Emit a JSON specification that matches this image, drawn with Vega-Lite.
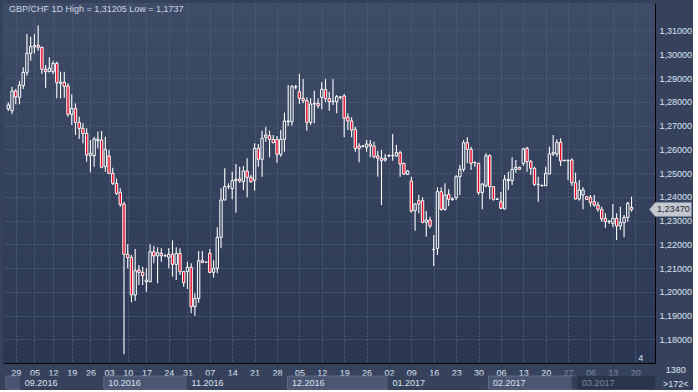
{
  "$schema": "https://vega.github.io/schema/vega-lite/v6.json",
  "background": "#36425c",
  "padding": {"left": 3, "top": 3, "right": 0, "bottom": 0},
  "spacing": 13,
  "bounds": "flush",
  "config": {
    "font": "Liberation Sans",
    "view": {"stroke": null}
  },
  "datasets": {
    "ohlc": [
      {"i":0,"o":1.27696,"h":1.27977,"l":1.27612,"c":1.27864},
      {"i":1,"o":1.27626,"h":1.28636,"l":1.27472,"c":1.28454},
      {"i":2,"o":1.28454,"h":1.28538,"l":1.27892,"c":1.28201},
      {"i":3,"o":1.28187,"h":1.28875,"l":1.27892,"c":1.28706},
      {"i":4,"o":1.28678,"h":1.29450,"l":1.28538,"c":1.29239},
      {"i":5,"o":1.29239,"h":1.30853,"l":1.29099,"c":1.30039},
      {"i":6,"o":1.30039,"h":1.30740,"l":1.29730,"c":1.30320},
      {"i":7,"o":1.30306,"h":1.30853,"l":1.30039,"c":1.30362},
      {"i":8,"o":1.30376,"h":1.31205,"l":1.30151,"c":1.30292},
      {"i":9,"o":1.30292,"h":1.30320,"l":1.29169,"c":1.29366},
      {"i":10,"o":1.29366,"h":1.29548,"l":1.28594,"c":1.29267},
      {"i":11,"o":1.29267,"h":1.29871,"l":1.29239,"c":1.29408},
      {"i":12,"o":1.29267,"h":1.29716,"l":1.29155,"c":1.29618},
      {"i":13,"o":1.29618,"h":1.29688,"l":1.28145,"c":1.28804},
      {"i":14,"o":1.28776,"h":1.29267,"l":1.28145,"c":1.28832},
      {"i":15,"o":1.28818,"h":1.29267,"l":1.28173,"c":1.28650},
      {"i":16,"o":1.28664,"h":1.28776,"l":1.27373,"c":1.27472},
      {"i":17,"o":1.27472,"h":1.28313,"l":1.27023,"c":1.27724},
      {"i":18,"o":1.27724,"h":1.27934,"l":1.26602,"c":1.27135},
      {"i":19,"o":1.27135,"h":1.27373,"l":1.26433,"c":1.26882},
      {"i":20,"o":1.26882,"h":1.27093,"l":1.26251,"c":1.26658},
      {"i":21,"o":1.26672,"h":1.26882,"l":1.25479,"c":1.25760},
      {"i":22,"o":1.25732,"h":1.26391,"l":1.25030,"c":1.25830},
      {"i":23,"o":1.25732,"h":1.26531,"l":1.25269,"c":1.26433},
      {"i":24,"o":1.26363,"h":1.26742,"l":1.26040,"c":1.26433},
      {"i":25,"o":1.26391,"h":1.26770,"l":1.25199,"c":1.25241},
      {"i":26,"o":1.25269,"h":1.26531,"l":1.25058,"c":1.25998},
      {"i":27,"o":1.25718,"h":1.25970,"l":1.24946,"c":1.24988},
      {"i":28,"o":1.24988,"h":1.25227,"l":1.24497,"c":1.24567},
      {"i":29,"o":1.24567,"h":1.24778,"l":1.24076,"c":1.24146},
      {"i":30,"o":1.24188,"h":1.24357,"l":1.23585,"c":1.23683},
      {"i":31,"o":1.23697,"h":1.23796,"l":1.17370,"c":1.21579},
      {"i":32,"o":1.21579,"h":1.22000,"l":1.20990,"c":1.21439},
      {"i":33,"o":1.21453,"h":1.21551,"l":1.19559,"c":1.19867},
      {"i":34,"o":1.19867,"h":1.21803,"l":1.19615,"c":1.20891},
      {"i":35,"o":1.20919,"h":1.21130,"l":1.20288,"c":1.20821},
      {"i":36,"o":1.20821,"h":1.21060,"l":1.20288,"c":1.20681},
      {"i":37,"o":1.20428,"h":1.20990,"l":1.20008,"c":1.20499},
      {"i":38,"o":1.20428,"h":1.22000,"l":1.20400,"c":1.21691},
      {"i":39,"o":1.21691,"h":1.21930,"l":1.21200,"c":1.21509},
      {"i":40,"o":1.21509,"h":1.21873,"l":1.20358,"c":1.21649},
      {"i":41,"o":1.21621,"h":1.21831,"l":1.21270,"c":1.21523},
      {"i":42,"o":1.21523,"h":1.21579,"l":1.21467,"c":1.21523},
      {"i":43,"o":1.21453,"h":1.21831,"l":1.20990,"c":1.21579},
      {"i":44,"o":1.21579,"h":1.22168,"l":1.20639,"c":1.21158},
      {"i":45,"o":1.21158,"h":1.21873,"l":1.20499,"c":1.21621},
      {"i":46,"o":1.21621,"h":1.21831,"l":1.20709,"c":1.20849},
      {"i":47,"o":1.20849,"h":1.20877,"l":1.20218,"c":1.20386},
      {"i":48,"o":1.20849,"h":1.21270,"l":1.20120,"c":1.21032},
      {"i":49,"o":1.21032,"h":1.21200,"l":1.19096,"c":1.19376},
      {"i":50,"o":1.19376,"h":1.19937,"l":1.18997,"c":1.19727},
      {"i":51,"o":1.19727,"h":1.21719,"l":1.19545,"c":1.21312},
      {"i":52,"o":1.21312,"h":1.21719,"l":1.21200,"c":1.21242},
      {"i":53,"o":1.21249,"h":1.21256,"l":1.21242,"c":1.21249},
      {"i":54,"o":1.21621,"h":1.21803,"l":1.20779,"c":1.20821},
      {"i":55,"o":1.20821,"h":1.21326,"l":1.20597,"c":1.20990},
      {"i":56,"o":1.20990,"h":1.22715,"l":1.20779,"c":1.22294},
      {"i":57,"o":1.22294,"h":1.24357,"l":1.21831,"c":1.23866},
      {"i":58,"o":1.23866,"h":1.25199,"l":1.23866,"c":1.24427},
      {"i":59,"o":1.24427,"h":1.24567,"l":1.24315,"c":1.24441},
      {"i":60,"o":1.24343,"h":1.25058,"l":1.23894,"c":1.24680},
      {"i":61,"o":1.24680,"h":1.25381,"l":1.23333,"c":1.24736},
      {"i":62,"o":1.24750,"h":1.25269,"l":1.24595,"c":1.24666},
      {"i":63,"o":1.24638,"h":1.25297,"l":1.24287,"c":1.25086},
      {"i":64,"o":1.25086,"h":1.25620,"l":1.23978,"c":1.24820},
      {"i":65,"o":1.24820,"h":1.24918,"l":1.24595,"c":1.24638},
      {"i":66,"o":1.24700,"h":1.26251,"l":1.24259,"c":1.26040},
      {"i":67,"o":1.26040,"h":1.26223,"l":1.25269,"c":1.25578},
      {"i":68,"o":1.25578,"h":1.26784,"l":1.24848,"c":1.26461},
      {"i":69,"o":1.26503,"h":1.26952,"l":1.26321,"c":1.26602},
      {"i":70,"o":1.26574,"h":1.26784,"l":1.25662,"c":1.26419},
      {"i":71,"o":1.26419,"h":1.26602,"l":1.26251,"c":1.26279},
      {"i":72,"o":1.26419,"h":1.26560,"l":1.25437,"c":1.25788},
      {"i":73,"o":1.25788,"h":1.26812,"l":1.25690,"c":1.26419},
      {"i":74,"o":1.26419,"h":1.27542,"l":1.25900,"c":1.27191},
      {"i":75,"o":1.27163,"h":1.28706,"l":1.26980,"c":1.27191},
      {"i":76,"o":1.27163,"h":1.28706,"l":1.26995,"c":1.28636},
      {"i":77,"o":1.28622,"h":1.28706,"l":1.28523,"c":1.28636},
      {"i":78,"o":1.28425,"h":1.29169,"l":1.27906,"c":1.28145},
      {"i":79,"o":1.28145,"h":1.28959,"l":1.27934,"c":1.28047},
      {"i":80,"o":1.28047,"h":1.28187,"l":1.26784,"c":1.27135},
      {"i":81,"o":1.27135,"h":1.28145,"l":1.27023,"c":1.27906},
      {"i":82,"o":1.27906,"h":1.28468,"l":1.27093,"c":1.27934},
      {"i":83,"o":1.27934,"h":1.28145,"l":1.27724,"c":1.27836},
      {"i":84,"o":1.28187,"h":1.28818,"l":1.27682,"c":1.28523},
      {"i":85,"o":1.28523,"h":1.28959,"l":1.27977,"c":1.28131},
      {"i":86,"o":1.28131,"h":1.28425,"l":1.27626,"c":1.28005},
      {"i":87,"o":1.28005,"h":1.28959,"l":1.27864,"c":1.28019},
      {"i":88,"o":1.28005,"h":1.28285,"l":1.27514,"c":1.28215},
      {"i":89,"o":1.28187,"h":1.28243,"l":1.28103,"c":1.28201},
      {"i":90,"o":1.28243,"h":1.28327,"l":1.26503,"c":1.27303},
      {"i":91,"o":1.27345,"h":1.27514,"l":1.26812,"c":1.27191},
      {"i":92,"o":1.27191,"h":1.27345,"l":1.26503,"c":1.26812},
      {"i":93,"o":1.26840,"h":1.26952,"l":1.25900,"c":1.26040},
      {"i":94,"o":1.26139,"h":1.26251,"l":1.25451,"c":1.26040},
      {"i":95,"o":1.26125,"h":1.26181,"l":1.26083,"c":1.26139},
      {"i":96,"o":1.26082,"h":1.26391,"l":1.25900,"c":1.26223},
      {"i":97,"o":1.26223,"h":1.26391,"l":1.25662,"c":1.26139},
      {"i":98,"o":1.26139,"h":1.26321,"l":1.25620,"c":1.25690},
      {"i":99,"o":1.25718,"h":1.25928,"l":1.24848,"c":1.25620},
      {"i":100,"o":1.25620,"h":1.25970,"l":1.23655,"c":1.25521},
      {"i":101,"o":1.25549,"h":1.25802,"l":1.25479,"c":1.25620},
      {"i":102,"o":1.25718,"h":1.25788,"l":1.25676,"c":1.25732},
      {"i":103,"o":1.25732,"h":1.26644,"l":1.25521,"c":1.25746},
      {"i":104,"o":1.25718,"h":1.26181,"l":1.25690,"c":1.25858},
      {"i":105,"o":1.25858,"h":1.25942,"l":1.24848,"c":1.25381},
      {"i":106,"o":1.25409,"h":1.25437,"l":1.24918,"c":1.24960},
      {"i":107,"o":1.24946,"h":1.25128,"l":1.24918,"c":1.25086},
      {"i":108,"o":1.24666,"h":1.24848,"l":1.23333,"c":1.23403},
      {"i":109,"o":1.23417,"h":1.23725,"l":1.22575,"c":1.23697},
      {"i":110,"o":1.23838,"h":1.24076,"l":1.23305,"c":1.23697},
      {"i":111,"o":1.23838,"h":1.23978,"l":1.22884,"c":1.22926},
      {"i":112,"o":1.22926,"h":1.23403,"l":1.22323,"c":1.23024},
      {"i":113,"o":1.23024,"h":1.23164,"l":1.22673,"c":1.22772},
      {"i":114,"o":1.21776,"h":1.22393,"l":1.21088,"c":1.21790},
      {"i":115,"o":1.21832,"h":1.24399,"l":1.21551,"c":1.24217},
      {"i":116,"o":1.24217,"h":1.24399,"l":1.23417,"c":1.23473},
      {"i":117,"o":1.23473,"h":1.24567,"l":1.23417,"c":1.24076},
      {"i":118,"o":1.24104,"h":1.24315,"l":1.23613,"c":1.23894},
      {"i":119,"o":1.23894,"h":1.23978,"l":1.23838,"c":1.23908},
      {"i":120,"o":1.23964,"h":1.24918,"l":1.23866,"c":1.24848},
      {"i":121,"o":1.24848,"h":1.25339,"l":1.24076,"c":1.25157},
      {"i":122,"o":1.25157,"h":1.26391,"l":1.25059,"c":1.26279},
      {"i":123,"o":1.26279,"h":1.26504,"l":1.25409,"c":1.25999},
      {"i":124,"o":1.25999,"h":1.26111,"l":1.25129,"c":1.25409},
      {"i":125,"o":1.25437,"h":1.25479,"l":1.25269,"c":1.25451},
      {"i":126,"o":1.25409,"h":1.25437,"l":1.24076,"c":1.24175},
      {"i":127,"o":1.24175,"h":1.24567,"l":1.23473,"c":1.24539},
      {"i":128,"o":1.24469,"h":1.25830,"l":1.24399,"c":1.25732},
      {"i":129,"o":1.25732,"h":1.25788,"l":1.23894,"c":1.24427},
      {"i":130,"o":1.24427,"h":1.24455,"l":1.23838,"c":1.23894},
      {"i":131,"o":1.23894,"h":1.23950,"l":1.23866,"c":1.23908},
      {"i":132,"o":1.23796,"h":1.24217,"l":1.23473,"c":1.23515},
      {"i":133,"o":1.23487,"h":1.24918,"l":1.23473,"c":1.24736},
      {"i":134,"o":1.24680,"h":1.25059,"l":1.24287,"c":1.24736},
      {"i":135,"o":1.24680,"h":1.25662,"l":1.24497,"c":1.25157},
      {"i":136,"o":1.25157,"h":1.25550,"l":1.25016,"c":1.25241},
      {"i":137,"o":1.25241,"h":1.25269,"l":1.25129,"c":1.25157},
      {"i":138,"o":1.25409,"h":1.26069,"l":1.25297,"c":1.26012},
      {"i":139,"o":1.26041,"h":1.26111,"l":1.25059,"c":1.25479},
      {"i":140,"o":1.25479,"h":1.25550,"l":1.24918,"c":1.25199},
      {"i":141,"o":1.25199,"h":1.25269,"l":1.24455,"c":1.24525},
      {"i":142,"o":1.24511,"h":1.24848,"l":1.23796,"c":1.24525},
      {"i":143,"o":1.24469,"h":1.24511,"l":1.24427,"c":1.24483},
      {"i":144,"o":1.24469,"h":1.25269,"l":1.24455,"c":1.24988},
      {"i":145,"o":1.24960,"h":1.26111,"l":1.24946,"c":1.25802},
      {"i":146,"o":1.25802,"h":1.26602,"l":1.25718,"c":1.25858},
      {"i":147,"o":1.25802,"h":1.26419,"l":1.25690,"c":1.26293},
      {"i":148,"o":1.26293,"h":1.26461,"l":1.25297,"c":1.25507},
      {"i":149,"o":1.25521,"h":1.25563,"l":1.25493,"c":1.25535},
      {"i":150,"o":1.25535,"h":1.25578,"l":1.24708,"c":1.25521},
      {"i":151,"o":1.25550,"h":1.25620,"l":1.24455,"c":1.24595},
      {"i":152,"o":1.24595,"h":1.25016,"l":1.23894,"c":1.23908},
      {"i":153,"o":1.23908,"h":1.24708,"l":1.23838,"c":1.24287},
      {"i":154,"o":1.24076,"h":1.24399,"l":1.23473,"c":1.24287},
      {"i":155,"o":1.24006,"h":1.24034,"l":1.23866,"c":1.23894},
      {"i":156,"o":1.23978,"h":1.24076,"l":1.23585,"c":1.23754},
      {"i":157,"o":1.23796,"h":1.24076,"l":1.23585,"c":1.23655},
      {"i":158,"o":1.23655,"h":1.23796,"l":1.23375,"c":1.23473},
      {"i":159,"o":1.23473,"h":1.23585,"l":1.22954,"c":1.23066},
      {"i":160,"o":1.23094,"h":1.23305,"l":1.22701,"c":1.22954},
      {"i":161,"o":1.22954,"h":1.23024,"l":1.22856,"c":1.22968},
      {"i":162,"o":1.22884,"h":1.23698,"l":1.22715,"c":1.23094},
      {"i":163,"o":1.23094,"h":1.23305,"l":1.22182,"c":1.22772},
      {"i":164,"o":1.22772,"h":1.23585,"l":1.22603,"c":1.22912},
      {"i":165,"o":1.22912,"h":1.23234,"l":1.22295,"c":1.23136},
      {"i":166,"o":1.23136,"h":1.23796,"l":1.22954,"c":1.23726},
      {"i":167,"o":1.23557,"h":1.24006,"l":1.23375,"c":1.23470}
    ],
    "months": [
      {"m":"08.2016","s":0.7,"e":4.5},
      {"m":"09.2016","s":4.5,"e":26.5},
      {"m":"10.2016","s":26.5,"e":48.5},
      {"m":"11.2016","s":48.5,"e":75},
      {"m":"12.2016","s":75,"e":101.5},
      {"m":"01.2017","s":101.5,"e":128},
      {"m":"02.2017","s":128,"e":151.5},
      {"m":"03.2017","s":151.5,"e":172}
    ],
    "future": [{"from":150,"to":172}],
    "info": [{"top":"1380","bottom":">172<"}]
  },
  "vconcat": [
    {
      "width": 652,
      "height": 360,
      "view": {
        "fill": {"gradient":"linear","x1":0,"y1":0,"x2":0,"y2":1,"stops":[{"offset":0,"color":"#3f4c68"},{"offset":1,"color":"#2b3752"}]},
        "stroke": null
      },
      "data": {"name": "ohlc"},
      "resolve": {"scale": {"y": "shared"}, "axis": {"y": "independent"}},
      "encoding": {
        "x": {
          "field": "i",
          "type": "quantitative",
          "scale": {"domain": [-0.08, 171.95], "nice": false, "zero": false},
          "axis": {
            "title": null,
            "values": [2,7,12,17,22,27,32,37,43,48,54,60,66,72,78,84,90,96,102,108,114,120,126,132,138,144,150,156,162,168],
            "labelExpr": "['29','05','12','19','26','03','10','17','24','31','07','14','21','28','05','12','19','26','02','09','16','23','30','06','13','20','27','06','13','20'][indexof([2,7,12,17,22,27,32,37,43,48,54,60,66,72,78,84,90,96,102,108,114,120,126,132,138,144,150,156,162,168], datum.value)]",
            "grid": true,
            "gridColor": "#53607b",
            "gridDash": [2, 2],
            "gridWidth": 1,
            "ticks": false,
            "domainColor": "#000000",
            "domainWidth": 1,
            "labelPadding": 5,
            "labelFont": "Liberation Sans",
            "labelFontSize": 9,
            "labelColor": {"condition": {"test": "datum.value >= 150", "value": "#7e889c"}, "value": "#dde4ef"},
            "labelFlush": false,
            "labelOverlap": false
          }
        }
      },
      "layer": [
        {
          "mark": {"type": "rule", "color": "#ffffff", "strokeWidth": 1.1, "clip": true},
          "encoding": {
            "y": {
              "field": "l",
              "type": "quantitative",
              "scale": {"domain": [1.17006, 1.32157], "nice": false, "zero": false},
              "axis": {
                "title": null,
                "orient": "right",
                "values": [1.18,1.19,1.20,1.21,1.22,1.23,1.24,1.25,1.26,1.27,1.28,1.29,1.30,1.31],
                "labelExpr": "replace(format(datum.value, '.5f'), '.', ',')",
                "labelOverlap": false,
                "labelBound": false,
                "grid": true,
                "gridColor": "#53607b",
                "gridDash": [2, 2],
                "gridWidth": 1,
                "ticks": false,
                "domainColor": "#000000",
                "domainWidth": 1,
                "labelPadding": 4,
                "labelFont": "Liberation Sans",
                "labelFontSize": 9,
                "labelColor": "#dde4ef"
              }
            },
            "y2": {"field": "h"}
          }
        },
        {
          "mark": {"type": "bar", "size": 2.4, "stroke": "#ffffff", "strokeWidth": 1, "clip": true},
          "encoding": {
            "y": {"field": "o", "type": "quantitative", "axis": null},
            "y2": {"field": "c"},
            "fill": {"condition": {"test": "datum.c < datum.o", "value": "#e8001e"}, "value": "#36435f"}
          }
        },
        {
          "transform": [{"filter": "datum.i == 167"}],
          "mark": {"type": "point", "shape": "M -1 0 L -0.72 -0.333 L 1 -0.333 L 1 0.333 L -0.72 0.333 Z", "size": 1764, "filled": true, "fill": "#c4c8d0", "stroke": "#8c93a3", "strokeWidth": 0.5, "opacity": 1},
          "encoding": {
            "x": {"datum": 177.41, "type": "quantitative"},
            "y": {"field": "c", "type": "quantitative", "axis": null}
          }
        },
        {
          "transform": [{"filter": "datum.i == 167"}],
          "mark": {"type": "text", "align": "center", "baseline": "middle", "dx": 3, "font": "Liberation Sans", "fontSize": 9, "color": "#1d2434"},
          "encoding": {
            "x": {"datum": 177.41, "type": "quantitative"},
            "y": {"field": "c", "type": "quantitative", "axis": null},
            "text": {"value": "1,23470"}
          }
        },
        {
          "transform": [{"filter": "datum.i == 0"}],
          "mark": {"type": "text", "align": "left", "baseline": "middle", "dx": 1, "dy": 6, "font": "Liberation Sans", "fontSize": 9, "color": "#cdd5e3"},
          "encoding": {
            "x": {"datum": -0.08, "type": "quantitative"},
            "y": {"datum": 1.32157, "type": "quantitative", "axis": null},
            "text": {"value": "GBP/CHF 1D High = 1,31205 Low = 1,1737"}
          }
        },
        {
          "transform": [{"filter": "datum.i == 167"}],
          "mark": {"type": "text", "align": "center", "baseline": "middle", "dx": 4, "font": "Liberation Sans", "fontSize": 9, "color": "#dde4ef"},
          "encoding": {
            "x": {"datum": 168.4, "type": "quantitative"},
            "y": {"datum": 1.1722, "type": "quantitative", "axis": null},
            "text": {"value": "4"}
          }
        }
      ]
    },
    {
      "width": 652,
      "height": 13,
      "view": {"fill": "#36425c", "stroke": null},
      "layer": [
        {
          "data": {"name": "months"},
          "mark": {"type": "rect", "strokeWidth": 1},
          "encoding": {
            "x": {"field": "s", "type": "quantitative", "scale": {"domain": [-0.08, 171.95], "nice": false, "zero": false}, "axis": null},
            "x2": {"field": "e"},
            "fill": {"field": "m", "type": "nominal", "legend": null,
              "scale": {"domain": ["08.2016","09.2016","10.2016","11.2016","12.2016","01.2017","02.2017","03.2017"],
                        "range": ["#475370","#36425c","#4a5672","#36425c","#4a5672","#36425c","#4a5672","#36425c"]}},
            "stroke": {"field": "m", "type": "nominal", "legend": null,
              "scale": {"domain": ["08.2016","09.2016","10.2016","11.2016","12.2016","01.2017","02.2017","03.2017"],
                        "range": ["#5f6b87","#36425c","#5f6b87","#36425c","#5f6b87","#36425c","#5f6b87","#36425c"]}}
          }
        },
        {
          "data": {"name": "future"},
          "mark": {"type": "rect", "fill": "#1c2538", "opacity": 0.45},
          "encoding": {
            "x": {"field": "from", "type": "quantitative"},
            "x2": {"field": "to"}
          }
        },
        {
          "data": {"name": "months"},
          "transform": [{"filter": "datum.m != '08.2016'"}],
          "mark": {"type": "text", "align": "left", "baseline": "middle", "dx": 4.5, "font": "Liberation Sans", "fontSize": 9},
          "encoding": {
            "x": {"field": "s", "type": "quantitative"},
            "text": {"field": "m"},
            "color": {"condition": {"test": "datum.m == '03.2017'", "value": "#7e889c"}, "value": "#dde4ef"}
          }
        },
        {
          "data": {"name": "info"},
          "mark": {"type": "text", "align": "center", "baseline": "middle", "dy": -13, "font": "Liberation Sans", "fontSize": 9, "color": "#dde4ef"},
          "encoding": {
            "x": {"datum": 177.41, "type": "quantitative"},
            "text": {"field": "top"}
          }
        },
        {
          "data": {"name": "info"},
          "mark": {"type": "text", "align": "center", "baseline": "middle", "dy": 1, "font": "Liberation Sans", "fontSize": 9, "color": "#dde4ef"},
          "encoding": {
            "x": {"datum": 177.41, "type": "quantitative"},
            "text": {"field": "bottom"}
          }
        }
      ]
    }
  ]
}
